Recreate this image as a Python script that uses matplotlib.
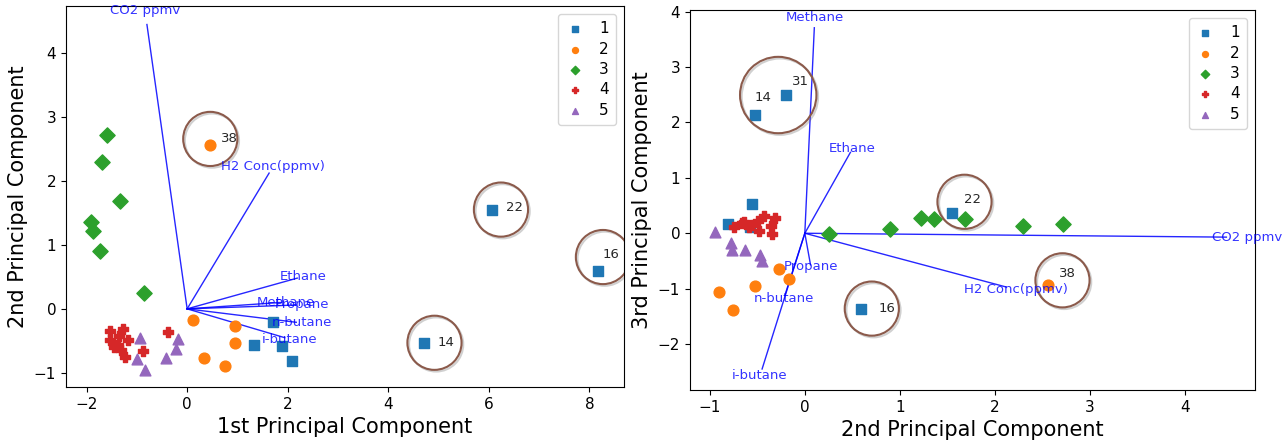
import numpy as np
import matplotlib
matplotlib.use('Agg')
import matplotlib.pyplot as plt
import matplotlib.transforms as mtransforms
import matplotlib.patheffects as pe

# principal component scores per group (PC1, PC2, PC3)
pc1_g1 = [4.72, 8.17, 6.07, 1.70, 1.33, 1.88, 2.08]
pc2_g1 = [-0.53, 0.59, 1.55, -0.20, -0.56, -0.58, -0.81]
pc3_g1 = [2.14, -1.36, 0.37, 2.49, 0.52, 0.11, 0.16]

pc1_g2 = [0.46, 0.11, 0.96, 0.96, 0.34, 0.75]
pc2_g2 = [2.56, -0.17, -0.27, -0.53, -0.76, -0.90]
pc3_g2 = [-0.94, -0.83, -0.64, -0.95, -1.38, -1.06]

pc1_g3 = [-1.60, -1.69, -1.34, -1.91, -1.88, -1.73, -0.86]
pc2_g3 = [2.72, 2.30, 1.69, 1.36, 1.22, 0.90, 0.25]
pc3_g3 = [0.16, 0.13, 0.25, 0.26, 0.28, 0.08, -0.02]

pc1_g4 = [-1.54, -1.27, -1.54, -1.35, -1.17, -1.46, -1.31, -1.23, -0.88, -0.38, -1.37]
pc2_g4 = [-0.35, -0.31, -0.49, -0.43, -0.48, -0.59, -0.64, -0.75, -0.66, -0.36, -0.56]
pc3_g4 = [-0.01, 0.28, 0.22, 0.32, 0.04, 0.11, 0.20, 0.11, 0.19, 0.13, 0.15]

pc1_g5 = [-0.93, -0.19, -0.22, -0.42, -0.99, -0.83]
pc2_g5 = [-0.45, -0.47, -0.63, -0.77, -0.78, -0.95]
pc3_g5 = [-0.50, -0.40, -0.31, -0.31, -0.17, 0.03]

groups = ['1', '2', '3', '4', '5']
markers = ['s', 'o', 'D', 'P', '^']
colors = ['tab:blue', 'tab:orange', 'tab:green', 'tab:red', 'tab:purple']
scores = [
    (pc1_g1, pc2_g1, pc3_g1),
    (pc1_g2, pc2_g2, pc3_g2),
    (pc1_g3, pc2_g3, pc3_g3),
    (pc1_g4, pc2_g4, pc3_g4),
    (pc1_g5, pc2_g5, pc3_g5),
]

# loadings
variables = ['CO2 ppmv', 'H2 Conc(ppmv)', 'Ethane', 'Methane', 'Propane', 'n-butane', 'i-butane']
load1 = [-0.80, 1.63, 2.19, 1.87, 2.17, 2.17, 1.94]
load2 = [4.44, 2.12, 0.48, 0.10, 0.06, -0.21, -0.45]
load3 = [-0.07, -0.97, 1.46, 3.71, -0.57, -1.12, -2.45]

# highlighted samples: (group, index, label, label offset pt, circle offset pt, circle size pt)
marks_left = [
    (1, 0, '38', (13.7, 4.3), (0, 4.3), 39),
    (0, 2, '22', (15.8, 1.4), (6.2, 0), 39),
    (0, 1, '16', (9.4, 12.2), (3.6, 10.1), 39),
    (0, 0, '14', (15.8, 0), (7.2, 0), 39),
]
marks_right = [
    (0, 3, '31', (10.8, 10.1), None, 0),
    (0, 0, '14', (5.8, 12.2), None, 0),
    (0, 2, '22', (15.1, 9.4), (9, 7.9), 39),
    (1, 0, '38', (14.4, 8.6), (10.5, 3.6), 39),
    (0, 1, '16', (18.7, 0), (7.9, 0), 39),
]

fig = plt.figure(figsize=(12.86, 4.40), dpi=100)
ax1 = fig.add_axes([0.0513, 0.1205, 0.434, 0.866])
ax2 = fig.add_axes([0.5365, 0.1136, 0.4393, 0.8636])

circ_color = '#8b5a4b'
shadow = [pe.SimpleLineShadow(offset=(1.2, -1.2), shadow_color='0.4', alpha=0.3), pe.Normal()]


def circle(ax, x, y, off, size):
    tr = mtransforms.offset_copy(ax.transData, fig=fig, x=off[0], y=off[1], units='points')
    ax.plot([x], [y], marker='o', ms=size, mfc='none', mec=circ_color, mew=1.5,
            transform=tr, path_effects=shadow, zorder=4)


def biplot(ax, a, b, la, lb, marks):
    for g in range(5):
        ax.scatter(scores[g][a], scores[g][b], marker=markers[g], c=colors[g], s=60,
                   label=groups[g], zorder=3)
    for i, v in enumerate(variables):
        ax.plot([0, la[i]], [0, lb[i]], color='b', lw=1, alpha=0.85, zorder=2)
        ax.text(la[i] * 1.05, lb[i] * 1.05, v, color='b', alpha=0.8, fontsize=9.5,
                ha='center', va='center', zorder=5)
    for g, k, lab, toff, coff, size in marks:
        x, y = scores[g][a][k], scores[g][b][k]
        ax.annotate(lab, (x, y), xytext=toff, textcoords='offset points',
                    ha='center', va='center', fontsize=9.5, color='0.15', zorder=5)
        if coff is not None:
            circle(ax, x, y, coff, size)
    ax.legend(loc='upper right', fontsize=11, markerscale=0.55, borderpad=0.5,
              labelspacing=0.35, handlelength=1.2, handletextpad=1.0)
    ax.tick_params(labelsize=11)


biplot(ax1, 0, 1, load1, load2, marks_left)
biplot(ax2, 1, 2, load2, load3, marks_right)

# big circle around samples 14 and 31 on the right plot
mx = (pc2_g1[0] + pc2_g1[3]) / 2
my = (pc3_g1[0] + pc3_g1[3]) / 2
circle(ax2, mx, my, (5.8, 7.2), 55)

ax1.set_xlim(-2.41, 8.69)
ax1.set_ylim(-1.22, 4.73)
ax1.set_xticks([-2, 0, 2, 4, 6, 8])
ax1.set_yticks([-1, 0, 1, 2, 3, 4])
ax1.set_xlabel('1st Principal Component', fontsize=15)
ax1.set_ylabel('2nd Principal Component', fontsize=15)

ax2.set_xlim(-1.21, 4.74)
ax2.set_ylim(-2.83, 4.03)
ax2.set_xticks([-1, 0, 1, 2, 3, 4])
ax2.set_yticks([-2, -1, 0, 1, 2, 3, 4])
ax2.set_xlabel('2nd Principal Component', fontsize=15)
ax2.set_ylabel('3rd Principal Component', fontsize=15)

plt.savefig('out.png', dpi=100)
